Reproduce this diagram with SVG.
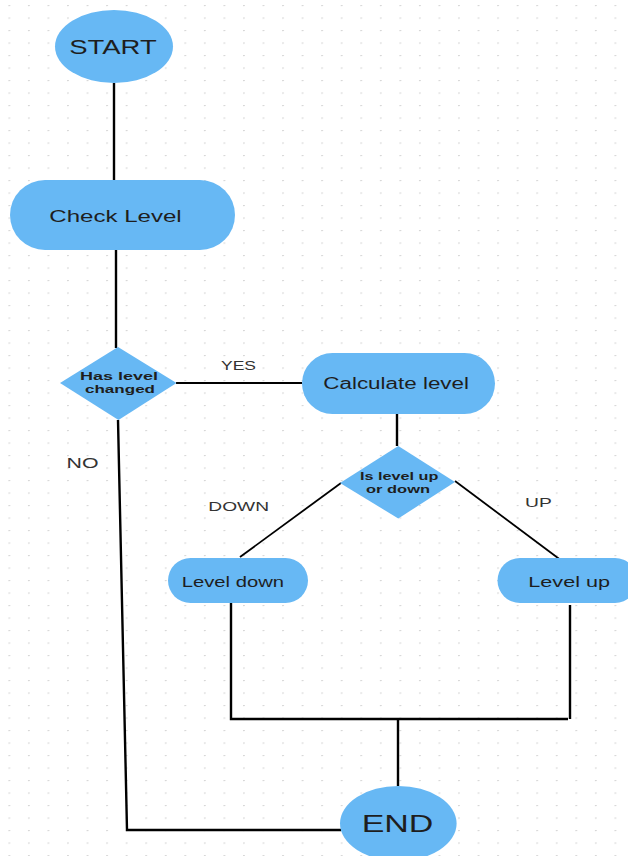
<svg xmlns="http://www.w3.org/2000/svg" width="628" height="856" viewBox="0 0 628 856">
  <defs>
    <pattern id="dots" x="8.4" y="5" width="19.55" height="12.5" patternUnits="userSpaceOnUse">
      <ellipse cx="0.9" cy="0.5" rx="1.1" ry="0.6" fill="#d6d6d6"/>
    </pattern>
  </defs>
  <style>
    .node { fill: #67b8f4; }
    .lbl { font-family: "Liberation Sans", Arial, sans-serif; fill: #1e1e1e; }
    .b { font-weight: bold; }
    .edge { stroke: #000; fill: none; stroke-width: 2.4; }
    .thin { stroke-width: 1.8; }
    .elbl { font-family: "Liberation Sans", Arial, sans-serif; fill: #333; }
  </style>
  <rect width="628" height="856" fill="#fff"/>
  <rect width="628" height="856" fill="url(#dots)"/>

  <g id="connectors">
    <line class="edge" x1="114" y1="83" x2="114" y2="180"/>
    <line class="edge" x1="116" y1="250" x2="116" y2="348"/>
    <line class="edge thin" x1="176" y1="383" x2="302" y2="383"/>
    <line class="edge" x1="397" y1="414" x2="397" y2="446"/>
    <line class="edge thin" x1="341" y1="483" x2="240" y2="557"/>
    <line class="edge thin" x1="455" y1="481" x2="562" y2="561"/>
    <polyline class="edge" points="231,603 231,719 568,719"/>
    <line class="edge" x1="570" y1="605" x2="570" y2="719"/>
    <line class="edge" x1="398" y1="719" x2="398" y2="786"/>
    <polyline class="edge" points="118,420 127,830 341,830"/>
    <text class="elbl" x="221" y="369.5" font-size="13" textLength="35" lengthAdjust="spacingAndGlyphs">YES</text>
    <text class="elbl" x="66.5" y="467.5" font-size="14" textLength="32" lengthAdjust="spacingAndGlyphs">NO</text>
    <text class="elbl" x="208.3" y="510.7" font-size="13.5" textLength="60.7" lengthAdjust="spacingAndGlyphs">DOWN</text>
    <text class="elbl" x="525" y="506.7" font-size="13" textLength="26.7" lengthAdjust="spacingAndGlyphs">UP</text>
  </g>

  <g id="start">
    <ellipse class="node" cx="114" cy="46.5" rx="59" ry="36.5"/>
    <text class="lbl" x="69.3" y="54" font-size="20.5" textLength="87.4" lengthAdjust="spacingAndGlyphs">START</text>
  </g>

  <g id="check-level">
    <rect class="node" x="10" y="180" width="225" height="70" rx="35" ry="35"/>
    <text class="lbl" x="49.3" y="221.7" font-size="17" textLength="132.4" lengthAdjust="spacingAndGlyphs">Check Level</text>
  </g>

  <g id="has-level-changed">
    <polygon class="node" points="118,347 176.5,383 118.5,420 60,383"/>
    <text class="lbl b" x="80" y="380" font-size="11.6" textLength="78" lengthAdjust="spacingAndGlyphs">Has level</text>
    <text class="lbl b" x="85" y="392.5" font-size="11.6" textLength="70" lengthAdjust="spacingAndGlyphs">changed</text>
  </g>

  <g id="calculate-level">
    <rect class="node" x="302" y="353" width="193" height="61" rx="30.5" ry="30.5"/>
    <text class="lbl" x="323.3" y="389" font-size="15.8" textLength="145.7" lengthAdjust="spacingAndGlyphs">Calculate level</text>
  </g>

  <g id="is-level-up-or-down">
    <polygon class="node" points="398.3,446 455,482 398.3,518.5 340,483"/>
    <text class="lbl b" x="360" y="480" font-size="11.6" textLength="78.3" lengthAdjust="spacingAndGlyphs">Is level up</text>
    <text class="lbl b" x="366" y="492.7" font-size="11.6" textLength="64" lengthAdjust="spacingAndGlyphs">or down</text>
  </g>

  <g id="level-down">
    <rect class="node" x="168" y="558" width="140" height="45" rx="22.5" ry="22.5"/>
    <text class="lbl" x="181.7" y="586.7" font-size="14.5" textLength="102.3" lengthAdjust="spacingAndGlyphs">Level down</text>
  </g>

  <g id="level-up">
    <rect class="node" x="497.5" y="558" width="140" height="45" rx="22.5" ry="22.5"/>
    <text class="lbl" x="528.3" y="586.7" font-size="14.5" textLength="81.7" lengthAdjust="spacingAndGlyphs">Level up</text>
  </g>

  <g id="end">
    <ellipse class="node" cx="398.3" cy="823.5" rx="58.3" ry="37.5"/>
    <text class="lbl" x="361.7" y="831.7" font-size="23" textLength="71.7" lengthAdjust="spacingAndGlyphs">END</text>
  </g>
</svg>
